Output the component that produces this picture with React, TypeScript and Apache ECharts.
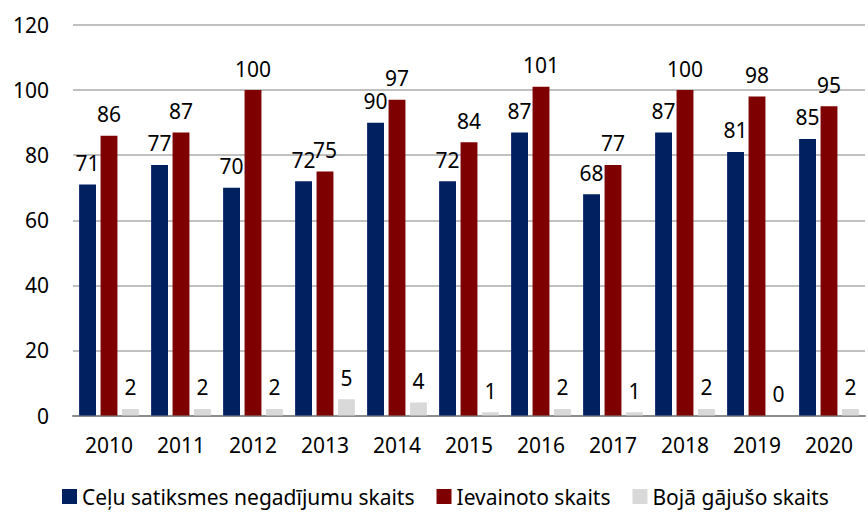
import React, { useEffect, useRef } from "react";
import * as echarts from "echarts";

const years = ["2010", "2011", "2012", "2013", "2014", "2015", "2016", "2017", "2018", "2019", "2020"];
const accidents = [71, 77, 70, 72, 90, 72, 87, 68, 87, 81, 85];
const injured = [86, 87, 100, 75, 97, 84, 101, 77, 100, 98, 95];
const killed = [2, 2, 2, 5, 4, 1, 2, 1, 2, 0, 2];
const seriesNames = ["Ceļu satiksmes negadījumu skaits", "Ievainoto skaits", "Bojā gājušo skaits"];
const colors = ["#002060", "#7F0000", "#D9D9D9"];

const FONT = "Noto Sans";

export default function App() {
  const ref = useRef<HTMLDivElement>(null);
  useEffect(() => {
    if (!ref.current) return;
    const chart = echarts.init(ref.current, null, { renderer: "svg" });
    const label = {
      show: true,
      position: "top" as const,
      distance: 11,
      color: "#000",
      fontFamily: FONT,
      fontSize: 21,
    };
    const datasets = [accidents, injured, killed];
    chart.setOption({
      animation: false,
      textStyle: { fontFamily: FONT },
      grid: { left: 73, right: 3, top: 25, bottom: 96.5, containLabel: false },
      legend: {
        bottom: 0,
        left: 57,
        itemWidth: 15,
        itemHeight: 15,
        itemGap: 22,
        icon: "rect",
        textStyle: { fontFamily: FONT, fontSize: 21, color: "#000" },
        data: seriesNames,
      },
      xAxis: {
        type: "category",
        data: years,
        axisLine: { lineStyle: { color: "#8C8C8C", width: 2 } },
        axisTick: { show: false },
        axisLabel: { color: "#000", fontFamily: FONT, fontSize: 21, margin: 19 },
      },
      yAxis: {
        type: "value",
        min: 0,
        max: 120,
        interval: 20,
        axisLine: { show: false },
        axisTick: { show: false },
        splitLine: { lineStyle: { color: "#ABABAB", width: 1.5 } },
        axisLabel: { color: "#000", fontFamily: FONT, fontSize: 21, margin: 24 },
      },
      series: seriesNames.map((name, i) => ({
        name,
        type: "bar",
        data: datasets[i],
        barGap: "27%",
        barCategoryGap: "17%",
        itemStyle: { color: colors[i] },
        label,
      })),
    });
    return () => chart.dispose();
  }, []);
  return <div ref={ref} style={{ width: 868, height: 512, position: "absolute", left: 0, top: 0 }} />;
}
